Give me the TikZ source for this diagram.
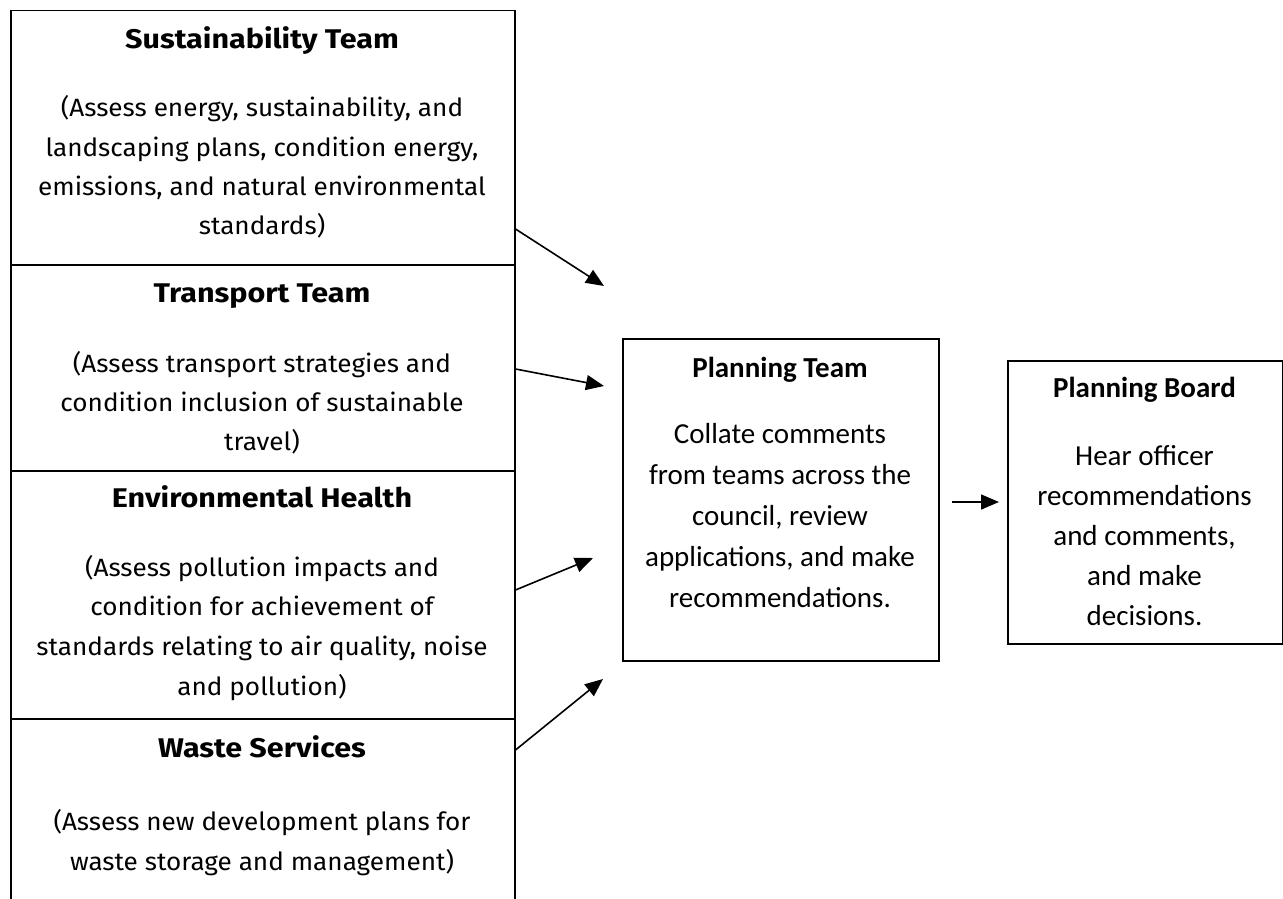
\documentclass[tikz,border=0pt]{standalone}
\usepackage{fontspec}
\usetikzlibrary{arrows.meta}
\newfontfamily\gillfont{Fira Sans}[FakeStretch=1.045]
\newfontfamily\gillbold{Fira Sans}[FakeStretch=1.13]
\newfontfamily\califont{Carlito}
\begin{document}
\begin{tikzpicture}[x=1pt,y=-1pt,
  sect/.style={draw=black,line width=1.5pt,rectangle,minimum width=504pt,inner sep=0pt,anchor=north west},
  gl/.style={anchor=base,inner sep=0pt,font=\gillfont\fontsize{25}{30}\selectfont},
  gt/.style={gl,font=\gillbold\bfseries\fontsize{27}{32}\selectfont},
  cl/.style={anchor=base,inner sep=0pt,font=\califont\fontsize{29}{35}\selectfont},
  ct/.style={cl,font=\califont\bfseries\fontsize{29}{35}\selectfont},
  box/.style={draw=black,line width=1.5pt,rectangle,inner sep=0pt,anchor=north west},
  arr/.style={line width=1.6pt,-{Triangle[length=18pt,width=15pt]}}]
\useasboundingbox (0,0) rectangle (1283,899);
\fill[white] (0,0) rectangle (1283,899);
\begin{scope}
\clip (0,0) rectangle (1283,899);
\node[sect,minimum height=254pt] (sust) at (10,10) {};
\node[sect,minimum height=206pt] (trans) at (10,264) {};
\node[sect,minimum height=248pt] (env) at (10,470) {};
\node[sect,minimum height=220pt] (waste) at (10,718) {};
\end{scope}
% Sustainability
\node[gt] (st) at (262,49) {Sustainability Team};
\node[gl] (s1) at (262,117) {(Assess energy, sustainability, and};
\node[gl] (s2) at (262,156) {landscaping plans, condition energy,};
\node[gl] (s3) at (262,195) {emissions, and natural environmental};
\node[gl] (s4) at (262,234) {standards)};
% Transport
\node[gt] (tt) at (262,302) {Transport Team};
\node[gl] (t1) at (262,372) {(Assess transport strategies and};
\node[gl] (t2) at (262,411) {condition inclusion of sustainable};
\node[gl] (t3) at (262,450) {travel)};
% Environmental Health
\node[gt] (et) at (262,507) {Environmental Health};
\node[gl] (e1) at (262,576) {(Assess pollution impacts and};
\node[gl] (e2) at (262,615) {condition for achievement of};
\node[gl] (e3) at (262,655) {standards relating to air quality, noise};
\node[gl] (e4) at (262,695) {and pollution)};
% Waste
\node[gt] (wt) at (262,757) {Waste Services};
\node[gl] (w1) at (262,830) {(Assess new development plans for};
\node[gl] (w2) at (262,870) {waste storage and management)};
% Planning Team
\node[box,minimum width=316pt,minimum height=322pt] (pt) at (622,338) {};
\node[ct] (ptt) at (780,377) {Planning Team};
\node[cl] (p1) at (780,443) {Collate comments};
\node[cl] (p2) at (780,484) {from teams across the};
\node[cl] (p3) at (780,525) {council, review};
\node[cl] (p4) at (780,566) {applications, and make};
\node[cl] (p5) at (780,607) {recommendations.};
% Planning Board
\node[box,minimum width=275pt,minimum height=283pt] (pb) at (1007,360) {};
\node[ct] (pbt) at (1144.5,397) {Planning Board};
\node[cl] (b1) at (1144.5,465) {Hear officer};
\node[cl] (b2) at (1144.5,505) {recommendations};
\node[cl] (b3) at (1144.5,545) {and comments,};
\node[cl] (b4) at (1144.5,585) {and make};
\node[cl] (b5) at (1144.5,625) {decisions.};
% connector ends
\coordinate (a1s) at (sust.east |- 0,229); \coordinate (a1e) at (604,286);
\coordinate (a2s) at (trans.east |- 0,369); \coordinate (a2e) at (604,386);
\coordinate (a3s) at (env.east |- 0,590); \coordinate (a3e) at (593,558);
\coordinate (a4s) at (waste.east |- 0,750); \coordinate (a4e) at (603,679);
\coordinate (a5s) at (952,502); \coordinate (a5e) at (pb.west |- 0,502);
\draw[arr] (a1s) -- (a1e);
\draw[arr] (a2s) -- (a2e);
\draw[arr] (a3s) -- (a3e);
\draw[arr] (a4s) -- (a4e);
\draw[arr,shorten >=8pt] (a5s) -- (a5e);
\end{tikzpicture}
\end{document}
